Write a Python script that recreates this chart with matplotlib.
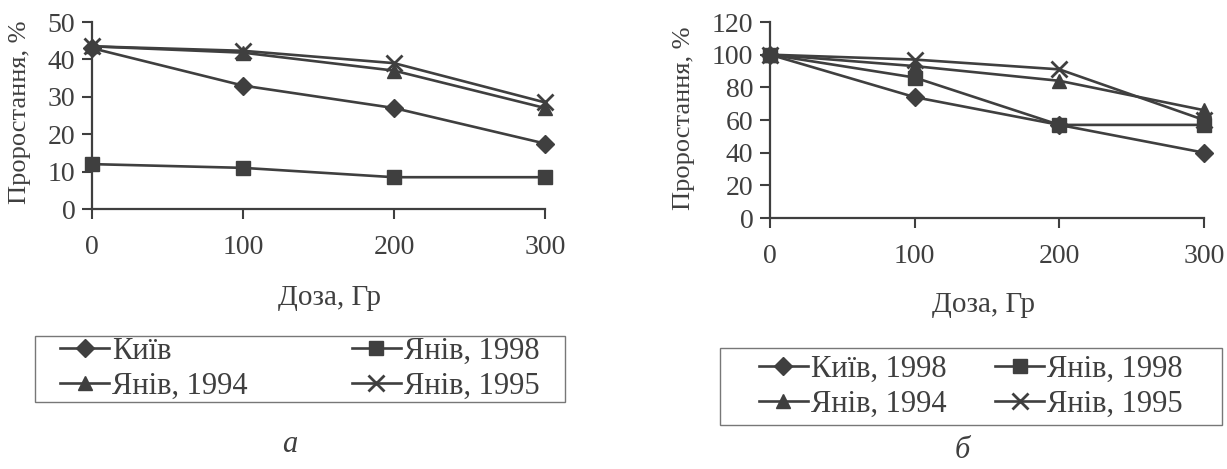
import numpy as np
import matplotlib
matplotlib.use("Agg")
import matplotlib.pyplot as plt
from matplotlib.patches import Rectangle

# ==========================
# DATA
# ==========================
dose = [0, 100, 200, 300]

# panel a
a_kyiv     = [43, 33, 27, 17.5]
a_yaniv98  = [12, 11, 8.5, 8.5]
a_yaniv94  = [43.5, 41.8, 37, 27]
a_yaniv95  = [43.5, 42.3, 39, 28.5]
a_labels   = ["Київ", "Янів, 1998", "Янів, 1994", "Янів, 1995"]

# panel b
b_kyiv     = [100, 74, 57, 40]
b_yaniv98  = [100, 86, 57, 57]
b_yaniv94  = [100, 93, 84, 66]
b_yaniv95  = [100, 97, 91, 60]
b_labels   = ["Київ, 1998", "Янів, 1998", "Янів, 1994", "Янів, 1995"]

a_yticks = [0, 10, 20, 30, 40, 50]
b_yticks = [0, 20, 40, 60, 80, 100, 120]

# ==========================
# STYLE
# ==========================
plt.rcParams.update({
    "font.family": ["Liberation Serif", "DejaVu Serif"],
    "font.size": 15,
})

INK = "#3f3f3f"
W, H = 1227, 469

STYLES = [
    dict(marker="D", ms=9),
    dict(marker="s", ms=10.5),
    dict(marker="^", ms=10.5),
    dict(marker="x", ms=11, mew=2.0),
]


def px_rect(x0, y0, x1, y1):
    # pixel box (top-left origin) -> figure fraction [l, b, w, h]
    return [x0 / W, 1 - y1 / H, (x1 - x0) / W, (y1 - y0) / H]


def fx(x):
    return x / W


def fy(y):
    return 1 - y / H


def draw_panel(fig, rect, series, labels, yticks, ylim, ylab_xy, xlab_xy,
               leg_box, colsp, letter_xy, letter):
    ax = fig.add_axes(px_rect(*rect))
    handles = []
    for ys, st, lab in zip(series, STYLES, labels):
        h, = ax.plot(dose, ys, color=INK, lw=1.9, mfc=INK, mec=INK,
                     label=lab, clip_on=False, **st)
        handles.append(h)

    ax.set_xlim(0, 300)
    ax.set_ylim(*ylim)
    ax.set_xticks(dose)
    ax.set_yticks(yticks)
    for s in ["top", "right"]:
        ax.spines[s].set_visible(False)
    for s in ["left", "bottom"]:
        ax.spines[s].set_color(INK)
        ax.spines[s].set_linewidth(1.6)
    ax.tick_params(direction="out", length=7, width=1.5, color=INK,
                   labelcolor=INK, labelsize=20)
    ax.tick_params(axis="x", pad=12)
    ax.tick_params(axis="y", pad=5)

    fig.text(fx(ylab_xy[0]), fy(ylab_xy[1]), "Проростання, %", rotation=90,
             ha="center", va="center", color=INK, fontsize=19)
    fig.text(fx(xlab_xy[0]), fy(xlab_xy[1]), "Доза, Гр",
             ha="center", va="center", color=INK, fontsize=21)

    x0, y0, x1, y1 = leg_box
    fig.patches.append(Rectangle((fx(x0), fy(y1)), (x1 - x0) / W, (y1 - y0) / H,
                                 transform=fig.transFigure, fill=False,
                                 ec="#777777", lw=1.0))
    order = [0, 2, 1, 3]
    ax.legend([handles[i] for i in order], [labels[i] for i in order],
              ncol=2, frameon=False, loc="center",
              bbox_to_anchor=(fx((x0 + x1) / 2), fy((y0 + y1) / 2)),
              bbox_transform=fig.transFigure,
              handlelength=1.6, handletextpad=0.1, columnspacing=colsp,
              labelspacing=0.2, borderpad=0.2, fontsize=22, labelcolor=INK)

    fig.text(fx(letter_xy[0]), fy(letter_xy[1]), letter,
             ha="center", va="center", color=INK, fontsize=22, style="italic")
    return ax


fig = plt.figure(figsize=(W / 100, H / 100), dpi=100)
fig.patch.set_facecolor("white")

draw_panel(fig, (92, 22, 545, 209),
           [a_kyiv, a_yaniv98, a_yaniv94, a_yaniv95], a_labels,
           a_yticks, (0, 50), (20, 112), (330, 298), (35, 336, 565, 402), 3.4,
           (290, 444), "а")

draw_panel(fig, (770, 22, 1204, 218),
           [b_kyiv, b_yaniv98, b_yaniv94, b_yaniv95], b_labels,
           b_yticks, (0, 120), (684, 118), (983, 305), (720, 348, 1222, 425), 1.6,
           (962, 450), "б")

plt.savefig("out.png", dpi=100, facecolor=fig.get_facecolor())
plt.close()
